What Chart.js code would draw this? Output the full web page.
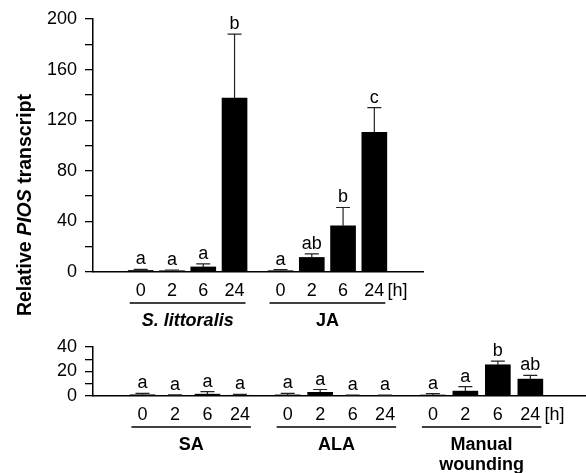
<!DOCTYPE html>
<html>
<head>
<meta charset="utf-8">
<script src="https://cdn.jsdelivr.net/npm/chart.js@4"></script>
<style>
  html, body { margin: 0; padding: 0; background: #fff; }
  #wrap { position: relative; width: 586px; height: 473px; }
  canvas { position: absolute; left: 0; top: 0; }
</style>
</head>
<body>
<div id="wrap">
  <canvas id="chartTop" width="586" height="473"></canvas>
  <canvas id="chartBottom" width="586" height="473"></canvas>
</div>
<script>
// PIOS transcript after different treatments

const timeLabels = ['0', '2', '6', '24']

// top panel (0-200)
const slMean = [1.2, 1.0, 4.0, 137.5]
const slErr = [0.8, 0.6, 2.4, 50.5]
const slLetters = ['a', 'a', 'a', 'b']

const jaMean = [1.0, 11.5, 36.5, 110.5]
const jaErr = [0.8, 2.8, 14.5, 19.5]
const jaLetters = ['a', 'ab', 'b', 'c']

// bottom panel (0-40)
const saMean = [1.0, 0.5, 1.5, 0.6]
const saErr = [1.2, 0.4, 2.0, 0.8]
const saLetters = ['a', 'a', 'a', 'a']

const alaMean = [0.9, 3.0, 0.5, 0.4]
const alaErr = [1.2, 2.3, 0.3, 0.3]
const alaLetters = ['a', 'a', 'a', 'a']

const mwMean = [0.8, 4.0, 25.5, 13.8]
const mwErr = [1.2, 3.6, 2.9, 3.0]
const mwLetters = ['a', 'a', 'b', 'ab']

const FONT = '"Liberation Sans", Arial, Helvetica, sans-serif'
const GROUP_STRIDE = 4.47
const posOf = (g, i) => g * GROUP_STRIDE + i

const annotate = {
    id: 'annotate',
    afterDatasetsDraw(chart, args, opts) {
        const {ctx, scales: {x, y}} = chart
        ctx.save()
        opts.groups.forEach((grp, g) => {
            grp.mean.forEach((m, i) => {
                const px = x.getPixelForValue(posOf(g, i))
                const base = y.getPixelForValue(m)
                const top = y.getPixelForValue(m + grp.err[i])
                ctx.strokeStyle = '#222'
                ctx.lineWidth = 1.2
                ctx.beginPath()
                ctx.moveTo(px, base)
                ctx.lineTo(px, top)
                ctx.moveTo(px - 7, top)
                ctx.lineTo(px + 7, top)
                ctx.stroke()
                ctx.fillStyle = '#000'
                ctx.font = `18px ${FONT}`
                ctx.textAlign = 'center'
                ctx.textBaseline = 'alphabetic'
                ctx.fillText(grp.letters[i], px, top - 5)
            })
            // group underline + name
            const x0 = x.getPixelForValue(posOf(g, 0)) - 11
            const x1 = x.getPixelForValue(posOf(g, 3)) + 11
            const lineY = y.bottom + 31
            ctx.strokeStyle = '#000'
            ctx.lineWidth = 1.3
            ctx.beginPath()
            ctx.moveTo(x0, lineY)
            ctx.lineTo(x1, lineY)
            ctx.stroke()
            ctx.fillStyle = '#000'
            ctx.font = `${grp.italic ? 'italic ' : ''}bold 18px ${FONT}`
            ctx.textAlign = 'center'
            ctx.textBaseline = 'middle'
            grp.name.forEach((line, k) => ctx.fillText(line, (x0 + x1) / 2, lineY + 18 + k * 20))
        })
        ctx.restore()
    }
}

const yTitle = {
    id: 'yTitle',
    afterDraw(chart) {
        const {ctx} = chart
        const parts = [['Relative ', ''], ['PIOS', 'italic '], [' transcript', '']]
        ctx.save()
        ctx.translate(26, 205)
        ctx.rotate(-Math.PI / 2)
        ctx.fillStyle = '#000'
        ctx.textBaseline = 'middle'
        ctx.textAlign = 'left'
        let total = 0
        parts.forEach(([t, s]) => { ctx.font = `${s}bold 19.5px ${FONT}`; total += ctx.measureText(t).width })
        let cx = -total / 2
        parts.forEach(([t, s]) => {
            ctx.font = `${s}bold 19.5px ${FONT}`
            ctx.fillText(t, cx, 0)
            cx += ctx.measureText(t).width
        })
        ctx.restore()
    }
}

const makeChart = (id, groups, yMax, yStep, yLabelStep, padTop, padRight, padBottom, xMax, plugins) => {
    const points = []
    const tickValues = []
    const tickText = []
    groups.forEach((grp, g) => {
        grp.mean.forEach((m, i) => {
            points.push({x: posOf(g, i), y: m})
            tickValues.push(posOf(g, i))
            tickText.push(timeLabels[i])
        })
    })
    // "[h]" unit after the last group
    tickValues.push(posOf(groups.length - 1, 3) + 0.74)
    tickText.push('[h]')

    return new Chart(document.getElementById(id).getContext('2d'), {
        type: 'bar',
        data: {
            datasets: [{
                data: points,
                backgroundColor: '#000',
                borderWidth: 0,
                barThickness: 25
            }]
        },
        options: {
            responsive: false,
            animation: false,
            events: [],
            layout: {padding: {top: padTop, right: padRight, bottom: padBottom, left: 0}},
            plugins: {
                legend: {display: false},
                tooltip: {enabled: false},
                annotate: {groups}
            },
            scales: {
                x: {
                    type: 'linear',
                    min: -0.94,
                    max: xMax,
                    afterBuildTicks: s => { s.ticks = tickValues.map(v => ({value: v})) },
                    afterFit: s => { s.height = 40 },
                    grid: {display: false, drawTicks: false},
                    border: {display: true, color: '#000', width: 1.5},
                    ticks: {
                        autoSkip: false,
                        maxRotation: 0,
                        padding: 8,
                        color: '#000',
                        font: {family: FONT, size: 18},
                        callback: (v, i) => tickText[i]
                    }
                },
                y: {
                    min: 0,
                    max: yMax,
                    afterFit: s => { s.width = 93 },
                    grid: {drawOnChartArea: false, tickLength: 8, color: '#000', lineWidth: 1.3},
                    border: {display: true, color: '#000', width: 1.5},
                    ticks: {
                        stepSize: yStep,
                        autoSkip: false,
                        padding: 8,
                        color: '#000',
                        font: {family: FONT, size: 18},
                        callback: v => (v % yLabelStep === 0 ? v : '')
                    }
                }
            }
        },
        plugins: [annotate, ...plugins]
    })
}

const topGroups = [
    {name: ['S. littoralis'], italic: true, mean: slMean, err: slErr, letters: slLetters},
    {name: ['JA'], italic: false, mean: jaMean, err: jaErr, letters: jaLetters}
]

const bottomGroups = [
    {name: ['SA'], italic: false, mean: saMean, err: saErr, letters: saLetters},
    {name: ['ALA'], italic: false, mean: alaMean, err: alaErr, letters: alaLetters},
    {name: ['Manual', 'wounding'], italic: false, mean: mwMean, err: mwErr, letters: mwLetters}
]

makeChart('chartTop', topGroups, 200, 20, 40, 19, 163, 473 - 272 - 40, 8.44, [yTitle])
makeChart('chartBottom', bottomGroups, 40, 10, 20, 347, 1, 473 - 396 - 40, 13.04, [])
</script>
</body>
</html>
